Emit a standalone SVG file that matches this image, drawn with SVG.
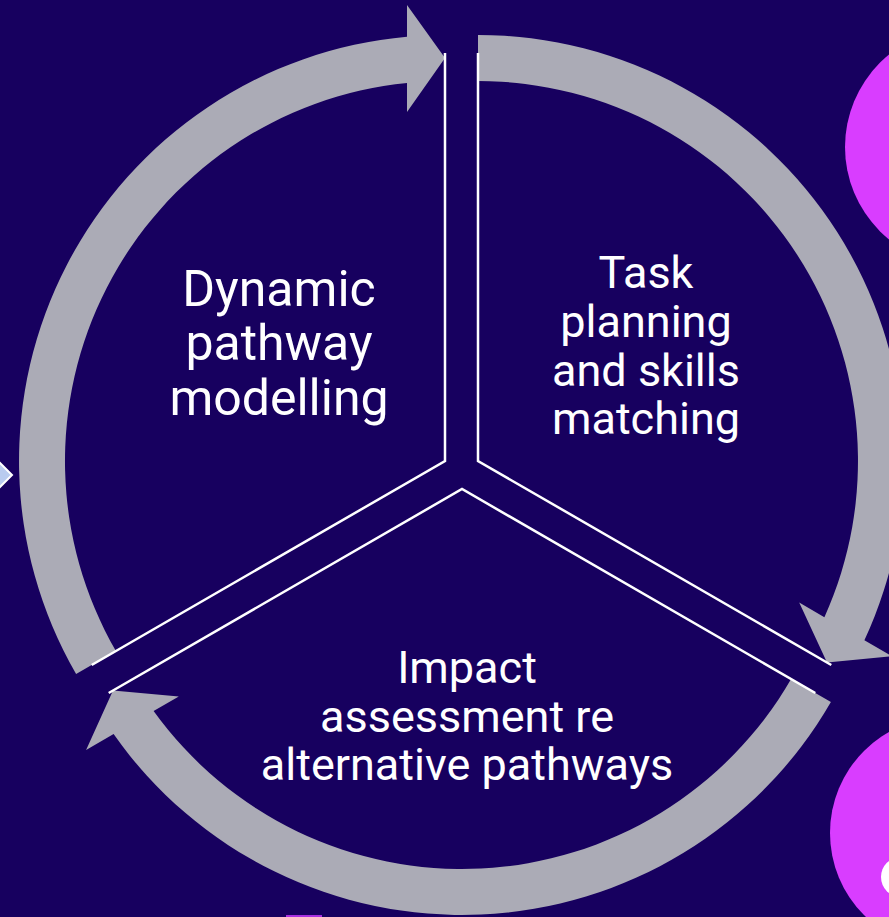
<svg xmlns="http://www.w3.org/2000/svg" width="889" height="917" viewBox="0 0 889 917">
  <style>
    .arrow { fill: #ABABB6; }
    .edge { fill: none; stroke: #FFFFFF; stroke-width: 2.5; stroke-linejoin: miter; }
    .lbl { fill: #FFFFFF; font-family: Roboto, "Liberation Sans", sans-serif; text-anchor: middle; }
    .deco { fill: #D93DFF; }
  </style>
  <rect x="0" y="0" width="889" height="917" fill="#17005F"/>
  <g id="decorations">
    <circle class="deco" cx="964" cy="147" r="119"/>
    <circle class="deco" cx="946" cy="833" r="116"/>
    <circle cx="901" cy="877" r="20" fill="#FFFFFF"/>
    <rect x="286" y="915" width="36" height="2" fill="#A82FE0"/>
    <polygon points="-1,462 12,475 -1,488" fill="#B9CBEF" stroke="#FFFFFF" stroke-width="2"/>
  </g>
  <g id="connectors">
    <path class="arrow" d="M76.1,674 A426,426 0 0 1 407,36.7 L407,5 L445,58 L407,112 L407,82.9 A380,380 0 0 0 115.9,651 Z"/>
    <path class="arrow" d="M478,35 A426,426 0 0 1 864.4,640.3 L891.9,656.1 L827,662.5 L799.2,602.6 L824.4,617.2 A380,380 0 0 0 478,81 Z"/>
    <path class="arrow" d="M830.9,702 A426,426 0 0 1 113.6,734.1 L86.1,749.9 L113,690.5 L178.8,696.4 L153.6,711 A380,380 0 0 0 791.1,679 Z"/>
  </g>
  <g id="node-dynamic">
    <polyline class="edge" points="445,53 445,461 91.7,665"/>
    <text class="lbl" font-size="50" x="279" y="306">Dynamic</text>
    <text class="lbl" font-size="50" x="279" y="360">pathway</text>
    <text class="lbl" font-size="50" x="279" y="414.5">modelling</text>
  </g>
  <g id="node-task">
    <polyline class="edge" points="478,53 478,461 831.3,665"/>
    <text class="lbl" font-size="45" x="646" y="287.5">Task</text>
    <text class="lbl" font-size="45" x="646" y="336.5">planning</text>
    <text class="lbl" font-size="45" x="646" y="385.5">and skills</text>
    <text class="lbl" font-size="45" x="646" y="433.5">matching</text>
  </g>
  <g id="node-impact">
    <polyline class="edge" points="108.7,693 462,489 815.3,693"/>
    <text class="lbl" font-size="45" x="467" y="683">Impact</text>
    <text class="lbl" font-size="45" x="467" y="731.5">assessment re</text>
    <text class="lbl" font-size="45" x="467" y="780">alternative pathways</text>
  </g>
</svg>
